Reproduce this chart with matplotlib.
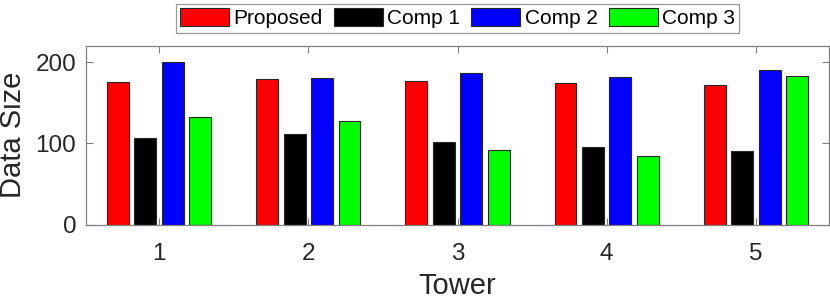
import numpy as np
import matplotlib
matplotlib.use("Agg")
from matplotlib import pyplot as plt

plt.rcParams['font.family'] = ['Liberation Sans', 'DejaVu Sans']

towers = [1, 2, 3, 4, 5]
proposed = [176, 179, 177, 175, 172]
comp1 = [106, 111, 102, 95, 90]
comp2 = [200, 181, 187, 182, 191]
comp3 = [132, 128, 92, 84, 183]

series = [proposed, comp1, comp2, comp3]
names = ['Proposed', 'Comp 1', 'Comp 2', 'Comp 3']
colors = ['#ff0000', '#000000', '#0000ff', '#00ff00']

fig = plt.figure(figsize=(8.3, 2.99), dpi=100)
ax = fig.add_axes([86 / 830, 1 - 224.5 / 299, (829 - 86) / 830, (224.5 - 46) / 299])

x = np.array(towers)
step = 0.184
width = 0.147
for i, (vals, name, c) in enumerate(zip(series, names, colors)):
    ax.bar(x + (i - 1.5) * step, vals, width, color=c, edgecolor='#262626',
           linewidth=0.8, label=name)

ax.set_xlim(0.51, 5.49)
ax.set_ylim(0, 220)
ax.set_xticks(towers)
ax.set_yticks([0, 100, 200])
ax.tick_params(direction='in', length=5, width=0.8, color='#808080',
               labelsize=17.5, top=True, right=True, colors='#262626')
ax.tick_params(axis='x', pad=13.5)
ax.tick_params(axis='y', pad=7)
for s in ax.spines.values():
    s.set_color('#808080')
    s.set_linewidth(0.9)
ax.set_xlabel('Tower', fontsize=21, labelpad=5, color='#262626')
ax.set_ylabel('Data Size', fontsize=21, labelpad=6, color='#262626')

leg = ax.legend(loc='lower center', bbox_to_anchor=(0.5, 1.075), ncol=4,
                fontsize=15, frameon=True, fancybox=False, borderpad=0.2,
                handlelength=2.35, handleheight=0.95, handletextpad=0.2,
                columnspacing=0.55, borderaxespad=0)
leg.get_frame().set_edgecolor('#808080')
leg.get_frame().set_linewidth(0.9)

plt.savefig('out.png', dpi=100)
